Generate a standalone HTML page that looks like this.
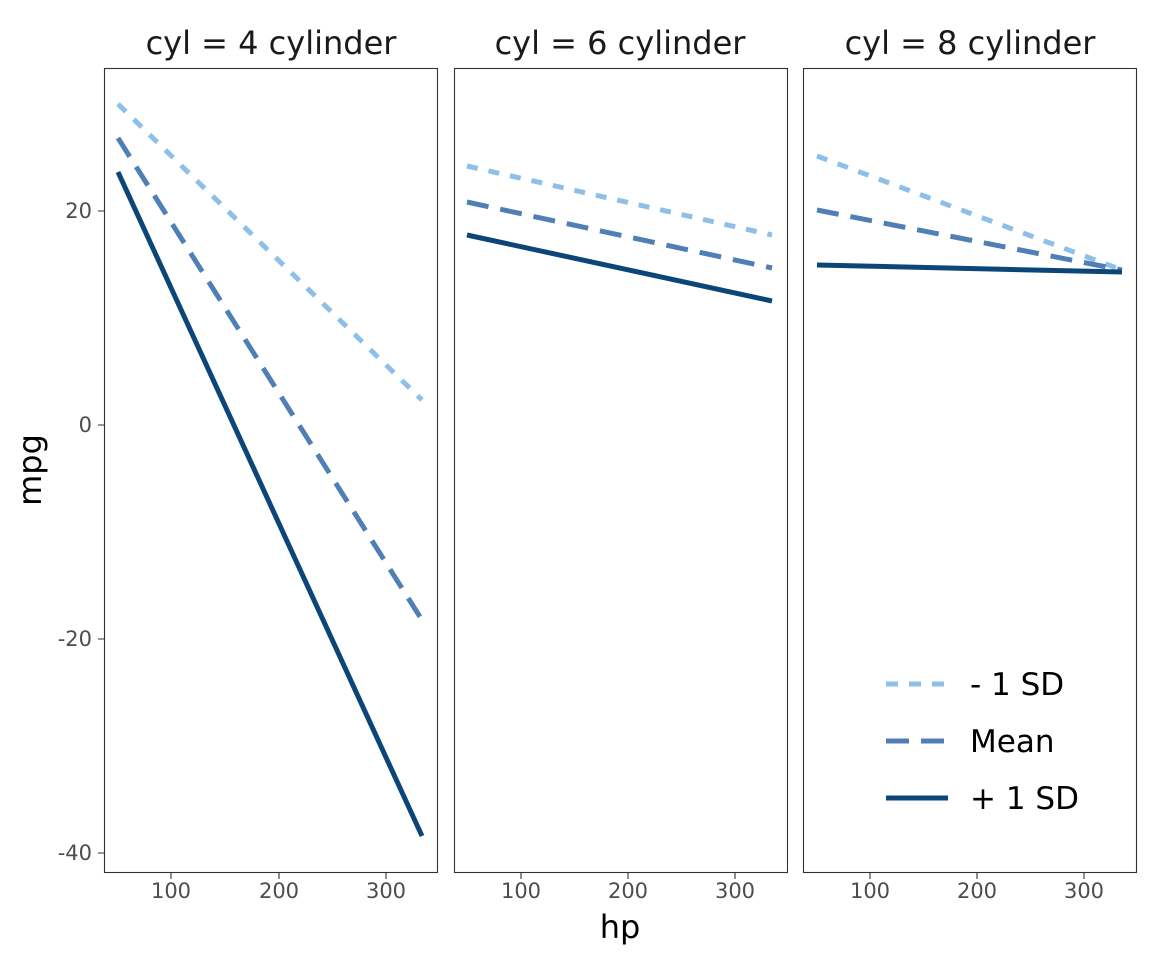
<!DOCTYPE html>
<html><head><style>body{margin:0;background:#fff}svg{display:block}text{font-family:"DejaVu Sans","Liberation Sans",sans-serif}</style></head>
<body>
<svg width="1152" height="960" viewBox="0 0 1152 960">
<rect width="1152" height="960" fill="#fff"/>
<g fill="#1a1a1a" font-size="32" text-anchor="middle">
<text x="271" y="54">cyl = 4 cylinder</text>
<text x="620" y="54">cyl = 6 cylinder</text>
<text x="970" y="54">cyl = 8 cylinder</text>
</g>
<g fill="none" stroke-width="5">
<line x1="118" y1="104" x2="422" y2="400" stroke="#8dbfe8" stroke-dasharray="11,11"/>
<line x1="118" y1="138" x2="422" y2="620" stroke="#4f7fb5" stroke-dasharray="22,12"/>
<line x1="118" y1="172" x2="422" y2="836" stroke="#0c4679"/>
<line x1="467" y1="166" x2="772" y2="235" stroke="#8dbfe8" stroke-dasharray="11,11"/>
<line x1="467" y1="202" x2="772" y2="268" stroke="#4f7fb5" stroke-dasharray="22,12"/>
<line x1="467" y1="235" x2="772" y2="301" stroke="#0c4679"/>
<line x1="817" y1="156" x2="1122" y2="270" stroke="#8dbfe8" stroke-dasharray="11,11"/>
<line x1="817" y1="210" x2="1122" y2="270" stroke="#4f7fb5" stroke-dasharray="22,12"/>
<line x1="817" y1="265" x2="1122" y2="272" stroke="#0c4679"/>
<line x1="886" y1="684" x2="948" y2="684" stroke="#8dbfe8" stroke-dasharray="12,11"/>
<line x1="886" y1="741" x2="948" y2="741" stroke="#4f7fb5" stroke-dasharray="23,12"/>
<line x1="886" y1="798" x2="948" y2="798" stroke="#0c4679"/>
</g>
<g fill="none" stroke="#333" stroke-width="1.1">
<rect x="104.5" y="68.5" width="333" height="804"/>
<rect x="454.5" y="68.5" width="333" height="804"/>
<rect x="803.5" y="68.5" width="333" height="804"/>
<path d="M98 211h6M98 425h6M98 639h6M98 853h6"/>
<path d="M171 873v6M279 873v6M386 873v6M521 873v6M628 873v6M735 873v6M870 873v6M977 873v6M1084 873v6"/>
</g>
<g fill="#4d4d4d" font-size="21" text-anchor="end">
<text x="92" y="218">20</text><text x="92" y="432">0</text><text x="92" y="646">-20</text><text x="92" y="860">-40</text>
</g>
<g fill="#4d4d4d" font-size="21" text-anchor="middle">
<text x="171" y="898">100</text><text x="279" y="898">200</text><text x="386" y="898">300</text>
<text x="521" y="898">100</text><text x="628" y="898">200</text><text x="735" y="898">300</text>
<text x="870" y="898">100</text><text x="977" y="898">200</text><text x="1084" y="898">300</text>
</g>
<text x="620" y="938" font-size="32" text-anchor="middle" fill="#000">hp</text>
<text transform="translate(41,470) rotate(-90)" font-size="32" text-anchor="middle" fill="#000">mpg</text>
<g font-size="31" fill="#000">
<text x="970" y="695">- 1 SD</text><text x="970" y="752">Mean</text><text x="970" y="809">+ 1 SD</text>
</g>
</svg>
</body></html>
